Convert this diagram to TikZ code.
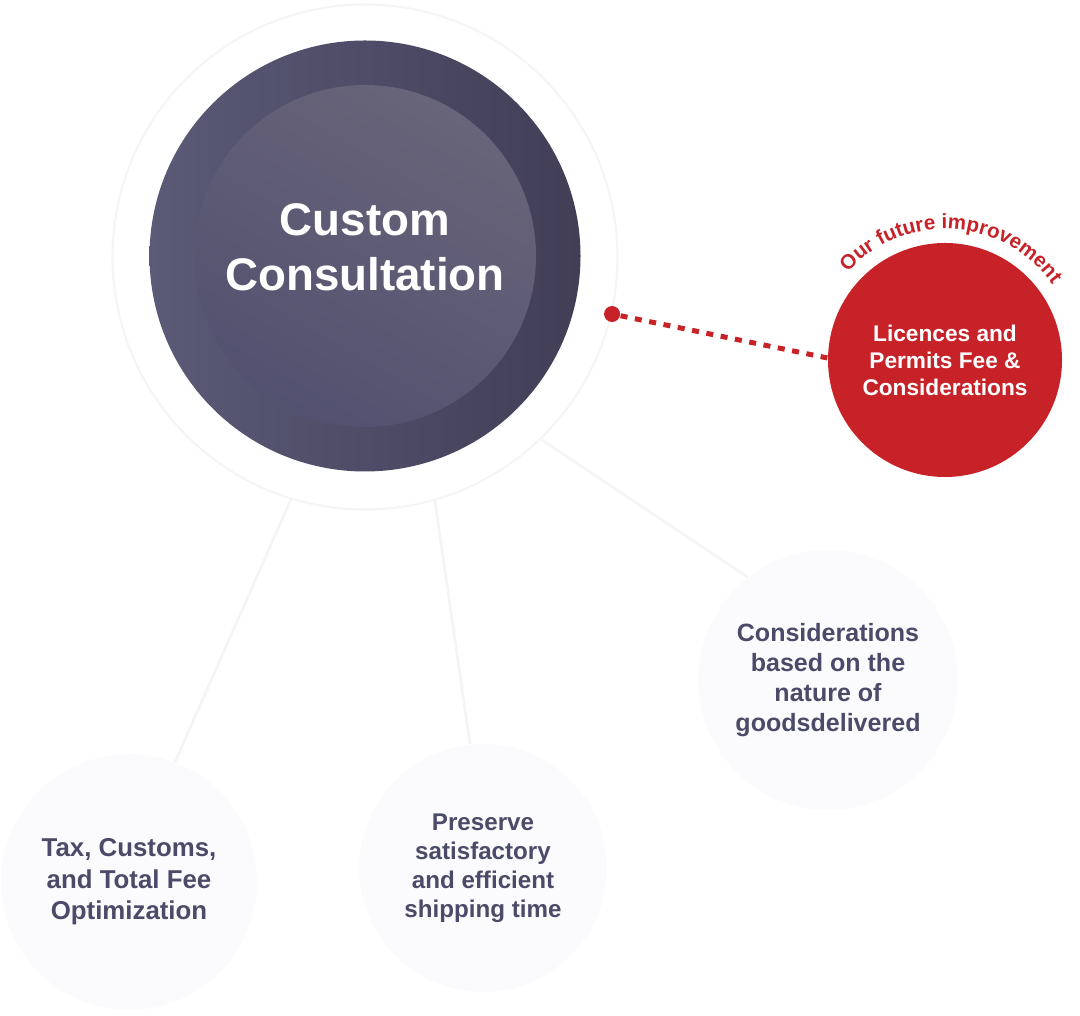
\documentclass[tikz,border=0pt]{standalone}
\usepackage{fontspec}
\setmainfont{Liberation Sans}
\usetikzlibrary{decorations.text}
\definecolor{ringgray}{HTML}{F5F5F7}
\definecolor{bubblegray}{HTML}{FBFBFD}
\definecolor{slateleft}{HTML}{5B5A77}
\definecolor{slateright}{HTML}{413E56}
\definecolor{innertop}{HTML}{686479}
\definecolor{innerbottom}{HTML}{535170}
\definecolor{futurered}{HTML}{C82229}
\definecolor{labelgray}{HTML}{4B4B69}

\begin{document}
\begin{tikzpicture}[thick,
  ring/.style={circle,draw=ringgray,line width=1.2pt,fill=white,inner sep=0pt},
  bubble/.style={circle,fill=bubblegray,text=labelgray,align=center,inner sep=0pt},
  spoke/.style={ringgray,line width=1.6pt}]
\useasboundingbox (0,0) rectangle (21.6,20.3);
\node[ring,minimum size=10.1cm] (ring) at (7.3,15.16) {};
\node[bubble,minimum size=5.12cm,font=\fontsize{14.7}{18}\selectfont\bfseries] (tax) at (2.58,2.66) {Tax, Customs,\\and Total Fee\\Optimization};
\node[bubble,minimum size=4.96cm,font=\fontsize{13.75}{16.5}\selectfont\bfseries] (keep) at (9.66,2.94) {Preserve\\satisfactory\\and efficient\\shipping time};
\node[bubble,minimum size=5.2cm,font=\fontsize{14.25}{17.1}\selectfont\bfseries] (goods) at (16.56,6.7) {Considerations\\based on the\\nature of\\goodsdelivered};
\draw[spoke] (ring.253) -- (tax.69);
\draw[spoke] (ring.286) -- (keep.96);
\draw[spoke] (ring.314) -- (goods.128);
% main circle
\node[circle,inner sep=0pt,minimum size=8.62cm,left color=slateleft,right color=slateright] (consult) at (7.3,15.18) {};
\node[circle,inner sep=0pt,minimum size=6.84cm,top color=innertop,bottom color=innerbottom,shading angle=-30] (core) at (7.3,15.18) {};
\node[text=white,align=center,font=\fontsize{26}{31.3}\selectfont\bfseries] (consulttext) at (7.3,15.36) {Custom\\Consultation};
% future improvement
\node[circle,fill=futurered,inner sep=0pt,minimum size=0.32cm] (dot) at (ring.347) {};
\node[circle,fill=futurered,text=white,align=center,inner sep=0pt,minimum size=4.68cm,font=\fontsize{12.9}{15.4}\selectfont\bfseries] (permit) at (18.9,13.1) {Licences and\\Permits Fee \&\\Considerations};
\draw[futurered,line width=2.85pt,dash pattern=on 4pt off 4.3pt] (dot) -- (permit.179);
\path[decorate,decoration={text along path,text align=center,
  text={|\fontsize{11.7}{14}\selectfont\bfseries\color{futurered}|Our future improvement}}]
  (permit.center) ++(140:2.62) arc[start angle=140,end angle=33,radius=2.62];
\end{tikzpicture}
\end{document}
